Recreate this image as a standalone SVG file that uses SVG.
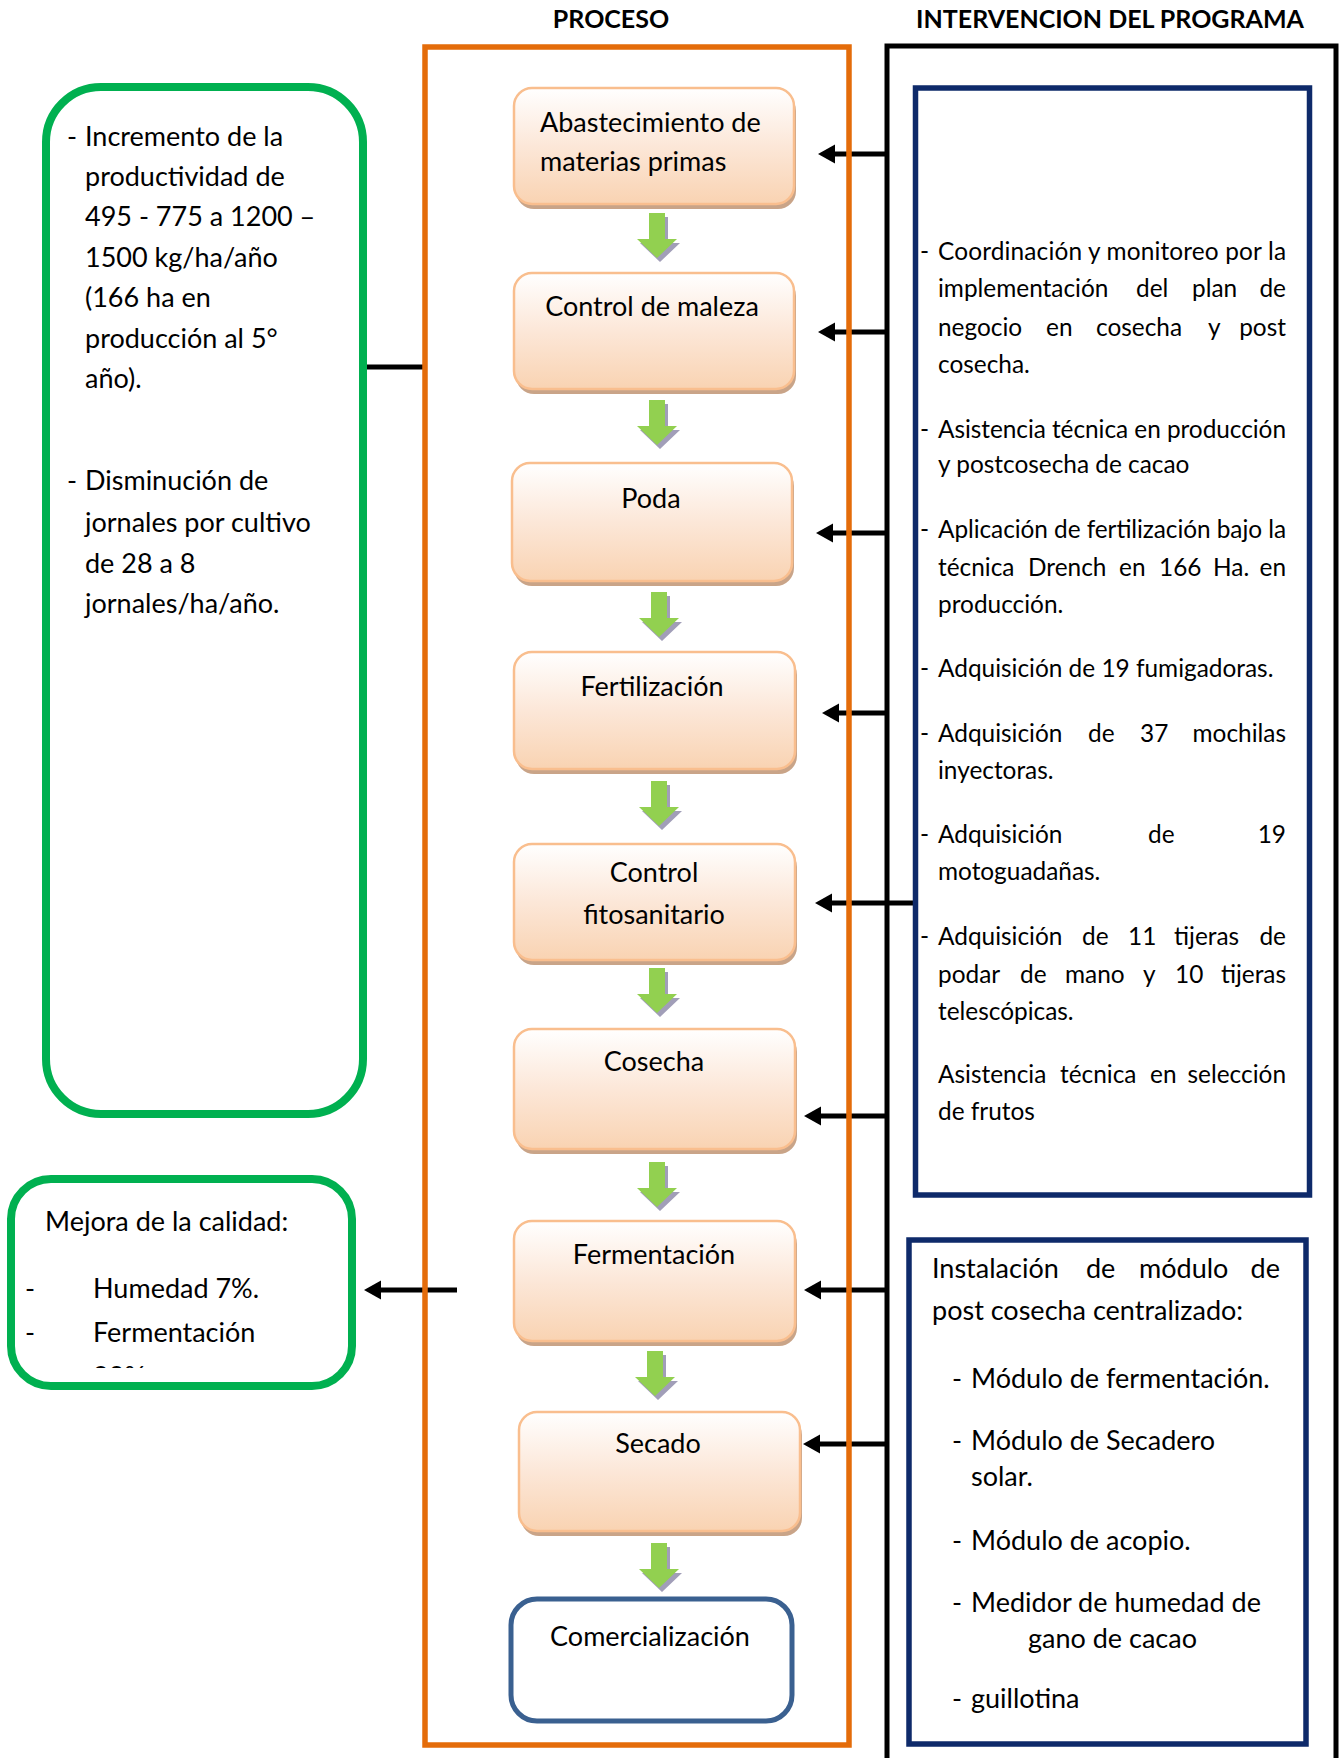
<svg xmlns="http://www.w3.org/2000/svg" width="1341" height="1758" viewBox="0 0 1341 1758">
<defs>
<style>
text { font-family: Lato, 'Open Sans', 'Liberation Sans', sans-serif; fill:#000; }
.t { font-size:27px; }
.s { font-size:24.4px; }
.h { font-size:25px; font-weight:bold; }
.c { text-anchor:middle; }
.e { text-anchor:end; }
.proc { fill:url(#pg); stroke:#F9BE8E; stroke-width:2.5; }
.psh { fill:#C9A488; }
.green { fill:#fff; stroke:#00B050; stroke-width:8; }
.navy { fill:#fff; stroke:#0E2A6A; stroke-width:5.5; }
.conn { stroke:#000; stroke-width:5; fill:none; }
.arr { marker-end:url(#ah); }
</style>
<linearGradient id="pg" x1="0" y1="0" x2="0" y2="1">
<stop offset="0" stop-color="#FFFFFF"/>
<stop offset="0.5" stop-color="#FCE7D8"/>
<stop offset="1" stop-color="#F9D3B2"/>
</linearGradient>
<marker id="ah" markerUnits="userSpaceOnUse" markerWidth="18" markerHeight="20" refX="0" refY="9.5" orient="auto">
<path d="M0,0 L17,9.5 L0,19 z" fill="#000"/>
</marker>
<g id="garr">
<path d="M-5,4 H11 V30 H23 L3,49 L-17,30 H-5 Z" fill="#A19EB8"/>
<path d="M-8,0 H8 V26 H20 L0,45 L-20,26 H-8 Z" fill="#92D050"/>
</g>
<clipPath id="cl2"><rect x="0" y="1150" width="360" height="218"/></clipPath>
</defs>

<rect width="1341" height="1758" fill="#fff"/>

<g id="titles">
<text class="h c" x="611" y="28">PROCESO</text>
<text class="h c" x="1110" y="28">INTERVENCION DEL PROGRAMA</text>
</g>

<g id="connectors">
<path class="conn" d="M367,367 H424"/>
<path class="conn arr" d="M887,154 H835"/>
<path class="conn arr" d="M887,332 H835"/>
<path class="conn arr" d="M887,533 H833"/>
<path class="conn arr" d="M887,713 H839"/>
<path class="conn arr" d="M914,903 H832"/>
<path class="conn arr" d="M887,1116 H821"/>
<path class="conn arr" d="M887,1290 H821"/>
<path class="conn arr" d="M887,1444 H820"/>
<path class="conn arr" d="M457,1290 H381"/>
<use href="#garr" x="657" y="213"/>
<use href="#garr" x="657" y="400"/>
<use href="#garr" x="659" y="592"/>
<use href="#garr" x="659" y="781"/>
<use href="#garr" x="657" y="968"/>
<use href="#garr" x="657" y="1162"/>
<use href="#garr" x="655" y="1351"/>
<use href="#garr" x="659" y="1543"/>
</g>

<g id="frame-proceso">
<rect x="425" y="47" width="424" height="1698" fill="none" stroke="#E46C0A" stroke-width="5.5"/>
</g>
<g id="frame-intervencion">
<path d="M887,1760 V46 H1336 V1760" fill="none" stroke="#000" stroke-width="5"/>
</g>

<g id="n-abastecimiento">
<rect class="psh" x="516" y="93" width="280" height="116" rx="18"/>
<rect class="proc" x="514" y="88" width="280" height="116" rx="18"/>
<text class="t" x="540" y="132">Abastecimiento de</text>
<text class="t" x="540" y="171">materias primas</text>
</g>
<g id="n-maleza">
<rect class="psh" x="516" y="278" width="280" height="116" rx="18"/>
<rect class="proc" x="514" y="273" width="280" height="116" rx="18"/>
<text class="t c" x="652" y="316">Control de maleza</text>
</g>
<g id="n-poda">
<rect class="psh" x="514" y="468" width="280" height="118" rx="18"/>
<rect class="proc" x="512" y="463" width="280" height="118" rx="18"/>
<text class="t c" x="651" y="508">Poda</text>
</g>
<g id="n-fertilizacion">
<rect class="psh" x="516" y="657" width="281" height="117" rx="18"/>
<rect class="proc" x="514" y="652" width="281" height="117" rx="18"/>
<text class="t c" x="652" y="696">Fertilización</text>
</g>
<g id="n-fitosanitario">
<rect class="psh" x="516" y="849" width="281" height="116" rx="18"/>
<rect class="proc" x="514" y="844" width="281" height="116" rx="18"/>
<text class="t c" x="654" y="882">Control</text>
<text class="t c" x="654" y="924">fitosanitario</text>
</g>
<g id="n-cosecha">
<rect class="psh" x="516" y="1034" width="281" height="120" rx="18"/>
<rect class="proc" x="514" y="1029" width="281" height="120" rx="18"/>
<text class="t c" x="654" y="1071">Cosecha</text>
</g>
<g id="n-fermentacion">
<rect class="psh" x="516" y="1226" width="281" height="120" rx="18"/>
<rect class="proc" x="514" y="1221" width="281" height="120" rx="18"/>
<text class="t c" x="654" y="1264">Fermentación</text>
</g>
<g id="n-secado">
<rect class="psh" x="521" y="1417" width="281" height="119" rx="18"/>
<rect class="proc" x="519" y="1412" width="281" height="119" rx="18"/>
<text class="t c" x="658" y="1453">Secado</text>
</g>
<g id="n-comercializacion">
<rect x="511" y="1599" width="281" height="122" rx="26" fill="#fff" stroke="#3A6090" stroke-width="5"/>
<text class="t c" x="650" y="1646">Comercialización</text>
</g>

<g id="n-resultados">
<rect class="green" x="46" y="87" width="317" height="1027" rx="55"/>
<text class="t" x="67" y="146">-</text>
<text class="t" x="85" y="146">Incremento de la</text>
<text class="t" x="85" y="186">productividad de</text>
<text class="t" x="85" y="226">495 - 775 a 1200 –</text>
<text class="t" x="85" y="267">1500 kg/ha/año</text>
<text class="t" x="85" y="307">(166 ha en</text>
<text class="t" x="85" y="348">producción al 5°</text>
<text class="t" x="85" y="388">año).</text>
<text class="t" x="67" y="490">-</text>
<text class="t" x="85" y="490">Disminución de</text>
<text class="t" x="85" y="532">jornales por cultivo</text>
<text class="t" x="85" y="573">de 28 a 8</text>
<text class="t" x="85" y="613">jornales/ha/año.</text>
</g>

<g id="n-calidad">
<rect class="green" x="11" y="1179" width="341" height="207" rx="40"/>
<text class="t" x="45" y="1231">Mejora de la calidad:</text>
<text class="t" x="25" y="1298">-</text>
<text class="t" x="93" y="1298">Humedad 7%.</text>
<text class="t" x="25" y="1342">-</text>
<text class="t" x="93" y="1342">Fermentación</text>
<text class="t" x="93" y="1386" clip-path="url(#cl2)">90%.</text>
</g>

<g id="n-intervencion-campo">
<rect class="navy" x="915.5" y="88" width="394" height="1107"/>
<text class="s" x="920" y="260">-</text>
<text class="s" x="938" y="260" textLength="348" lengthAdjust="spacing">Coordinación y monitoreo por la</text>
<text class="s" x="938" y="297">implementación</text><text class="s" x="1136" y="297">del</text><text class="s" x="1192" y="297">plan</text><text class="s e" x="1286" y="297">de</text>
<text class="s" x="938" y="336">negocio</text><text class="s" x="1046" y="336">en</text><text class="s" x="1096" y="336">cosecha</text><text class="s" x="1208" y="336">y</text><text class="s e" x="1286" y="336">post</text>
<text class="s" x="938" y="373">cosecha.</text>
<text class="s" x="920" y="438">-</text>
<text class="s" x="938" y="438" textLength="348" lengthAdjust="spacing">Asistencia técnica en producción</text>
<text class="s" x="938" y="473">y postcosecha de cacao</text>
<text class="s" x="920" y="538">-</text>
<text class="s" x="938" y="538" textLength="348" lengthAdjust="spacing">Aplicación de fertilización bajo la</text>
<text class="s" x="938" y="576">técnica</text><text class="s" x="1028" y="576">Drench</text><text class="s" x="1119" y="576">en</text><text class="s" x="1159" y="576">166</text><text class="s" x="1213" y="576">Ha.</text><text class="s e" x="1286" y="576">en</text>
<text class="s" x="938" y="613">producción.</text>
<text class="s" x="920" y="677">-</text>
<text class="s" x="938" y="677">Adquisición de 19 fumigadoras.</text>
<text class="s" x="920" y="742">-</text>
<text class="s" x="938" y="742">Adquisición</text><text class="s" x="1088" y="742">de</text><text class="s" x="1140" y="742">37</text><text class="s e" x="1286" y="742">mochilas</text>
<text class="s" x="938" y="779">inyectoras.</text>
<text class="s" x="920" y="843">-</text>
<text class="s" x="938" y="843">Adquisición</text><text class="s" x="1148" y="843">de</text><text class="s e" x="1286" y="843">19</text>
<text class="s" x="938" y="880">motoguadañas.</text>
<text class="s" x="920" y="945">-</text>
<text class="s" x="938" y="945">Adquisición</text><text class="s" x="1082" y="945">de</text><text class="s" x="1128" y="945">11</text><text class="s" x="1174" y="945">tijeras</text><text class="s e" x="1286" y="945">de</text>
<text class="s" x="938" y="983">podar</text><text class="s" x="1020" y="983">de</text><text class="s" x="1065" y="983">mano</text><text class="s" x="1143" y="983">y</text><text class="s" x="1175" y="983">10</text><text class="s e" x="1286" y="983">tijeras</text>
<text class="s" x="938" y="1020">telescópicas.</text>
<text class="s" x="938" y="1083">Asistencia</text><text class="s" x="1060" y="1083">técnica</text><text class="s" x="1150" y="1083">en</text><text class="s e" x="1286" y="1083">selección</text>
<text class="s" x="938" y="1120">de frutos</text>
</g>

<g id="n-intervencion-postcosecha">
<rect class="navy" x="909" y="1240" width="397" height="504"/>
<text class="t" x="932" y="1278">Instalación</text><text class="t" x="1086" y="1278">de</text><text class="t" x="1139" y="1278">módulo</text><text class="t e" x="1280" y="1278">de</text>
<text class="t" x="932" y="1320">post cosecha centralizado:</text>
<text class="t" x="952" y="1388">-</text><text class="t" x="971" y="1388">Módulo de fermentación.</text>
<text class="t" x="952" y="1450">-</text><text class="t" x="971" y="1450">Módulo de Secadero</text>
<text class="t" x="971" y="1486">solar.</text>
<text class="t" x="952" y="1550">-</text><text class="t" x="971" y="1550">Módulo de acopio.</text>
<text class="t" x="952" y="1612">-</text><text class="t" x="971" y="1612">Medidor de humedad de</text>
<text class="t" x="1028" y="1648">gano de cacao</text>
<text class="t" x="952" y="1708">-</text><text class="t" x="971" y="1708">guillotina</text>
</g>
</svg>
